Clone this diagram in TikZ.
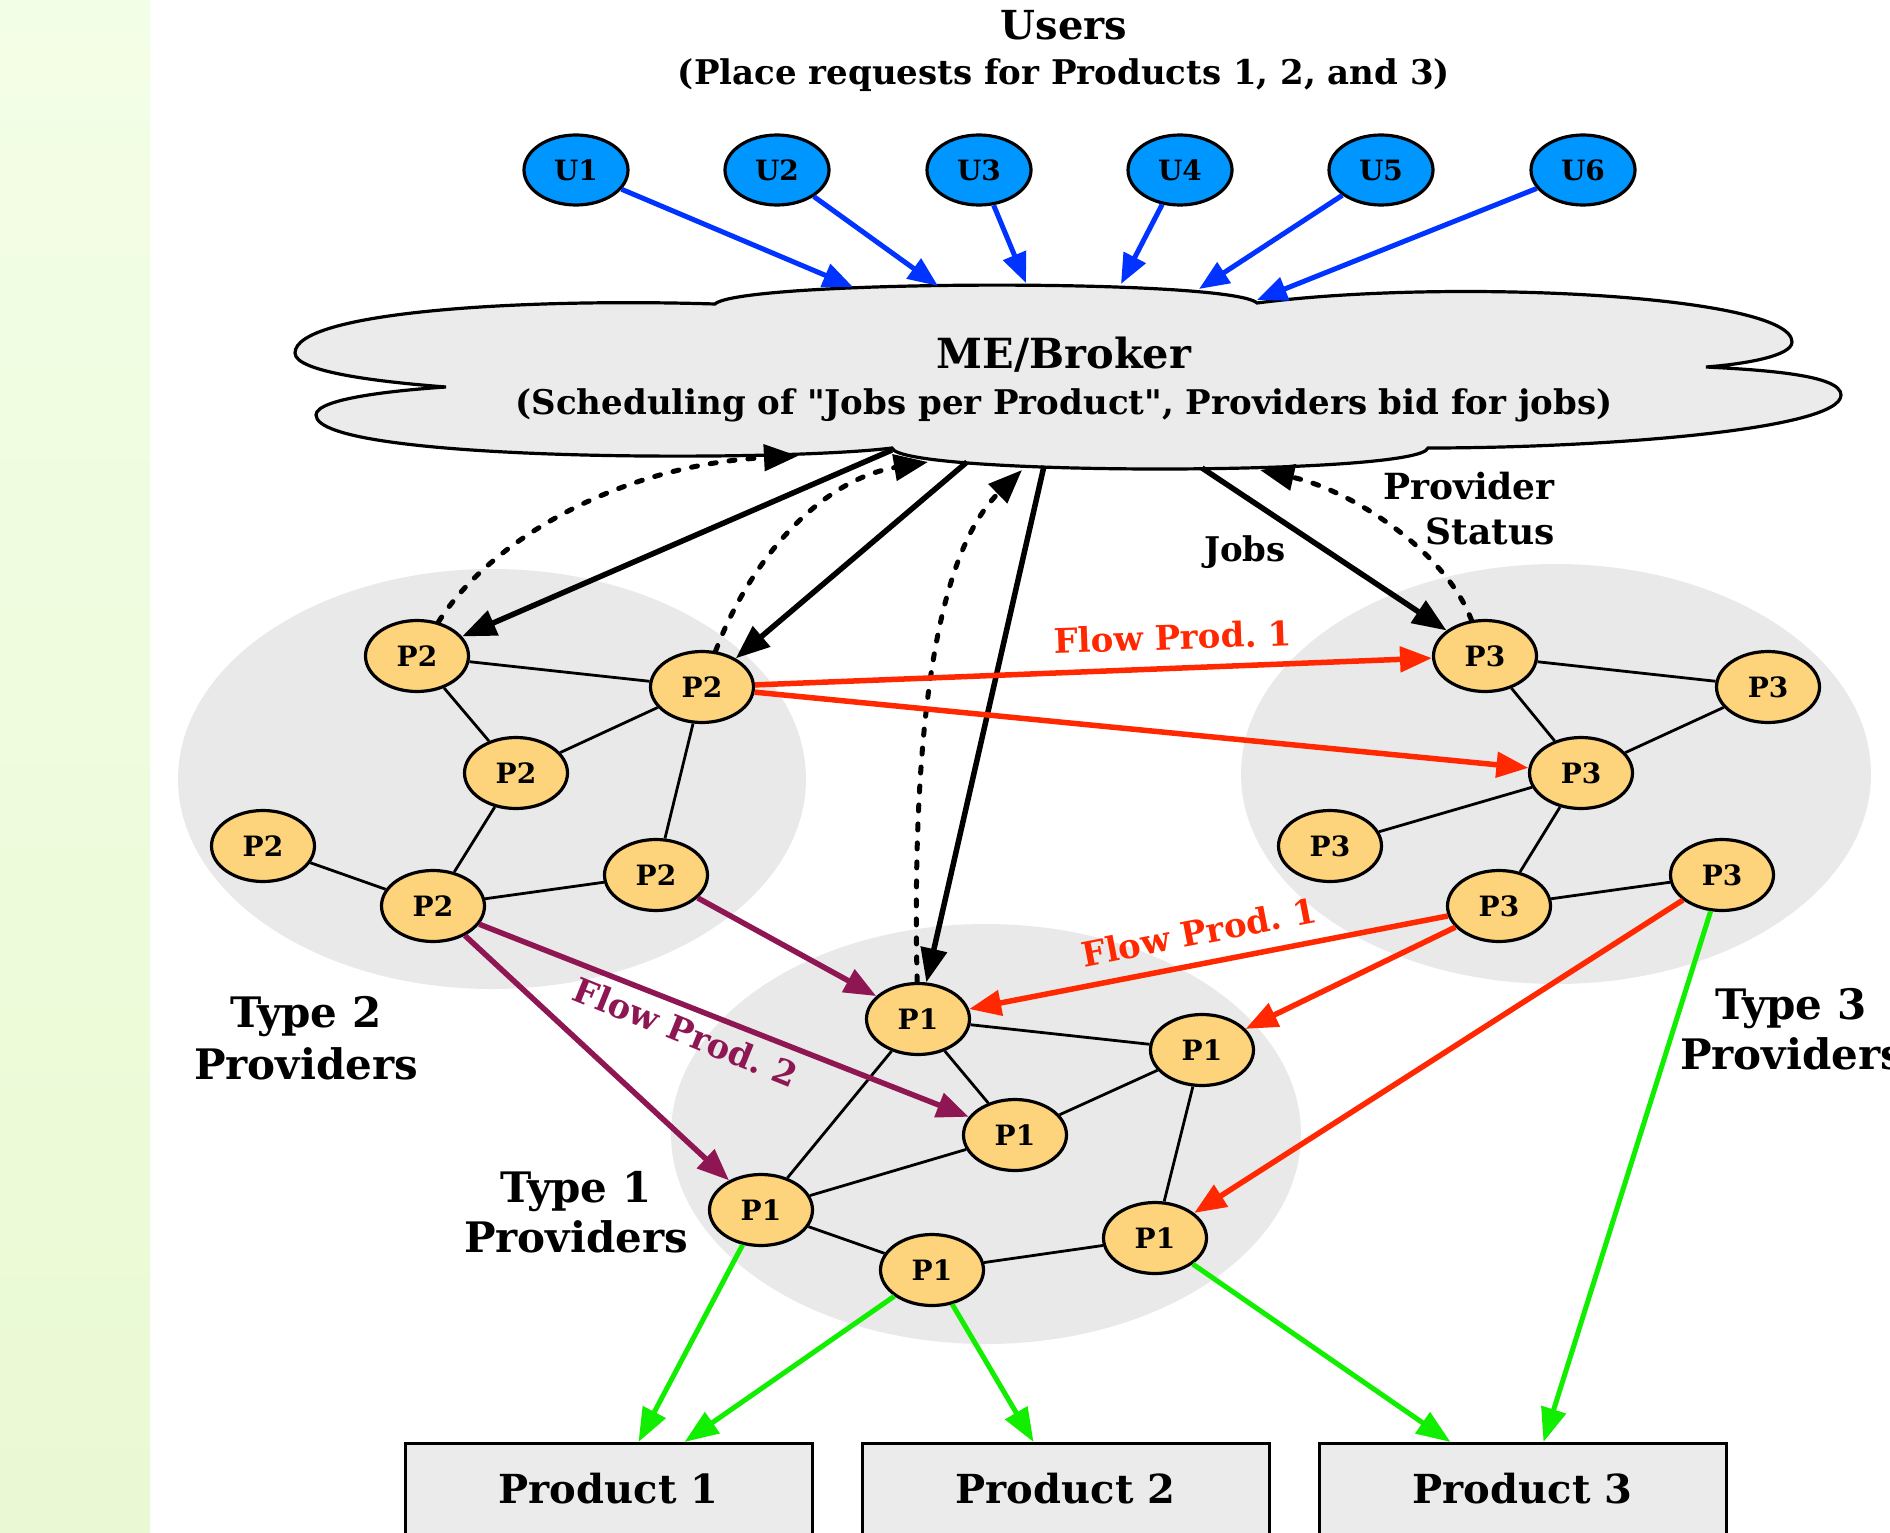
\documentclass[tikz,border=0pt]{standalone}
\usepackage{fontspec}
\setmainfont{DejaVu Serif}[Ligatures=TeXOff]
\usetikzlibrary{arrows.meta,shapes.geometric}
\frenchspacing

\definecolor{stripA}{RGB}{243,254,230}
\definecolor{stripB}{RGB}{234,249,211}
\definecolor{userfill}{RGB}{0,150,255}
\definecolor{userline}{RGB}{0,51,255}
\definecolor{provfill}{RGB}{253,212,124}
\definecolor{regionfill}{RGB}{233,233,233}
\definecolor{cloudfill}{RGB}{235,235,235}
\definecolor{flowred}{RGB}{255,40,0}
\definecolor{flowpurple}{RGB}{142,22,82}
\definecolor{flowgreen}{RGB}{17,238,0}

\newcommand\myfs[1]{\fontsize{#1}{#1}\selectfont\bfseries}

\begin{document}
\begin{tikzpicture}[x=1pt,y=-1pt,
  user/.style={ellipse,draw,line width=3.2pt,fill=userfill,minimum width=104pt,
    minimum height=70pt,inner sep=0pt,font=\myfs{28}},
  prov/.style={ellipse,draw,line width=3.2pt,fill=provfill,minimum width=103pt,
    minimum height=71pt,inner sep=0pt,font=\myfs{28}},
  link/.style={line width=2.8pt},
  userarrow/.style={userline,line width=5pt,-{Triangle[length=30pt,width=24pt]}},
  jobarrow/.style={black,line width=5.5pt,-{Triangle[length=34pt,width=26pt]}},
  statusarrow/.style={black,line width=5pt,line cap=round,dash pattern=on 6pt off 13pt,
    -{Triangle[length=34pt,width=26pt]}},
  redarrow/.style={flowred,line width=5.5pt,-{Triangle[length=32pt,width=25pt]}},
  purplearrow/.style={flowpurple,line width=5.5pt,-{Triangle[length=32pt,width=25pt]}},
  greenarrow/.style={flowgreen,line width=5pt,-{Triangle[length=34pt,width=25pt]}},
  prodbox/.style={draw,line width=3pt,fill=cloudfill,minimum width=407pt,
    minimum height=104pt,text depth=14pt,anchor=north,inner sep=0pt,font=\myfs{40}},
  lbl/.style={inner sep=0pt,align=center},
]
\useasboundingbox (0,0) rectangle (1890,1533);

% side strip
\shade[top color=stripA,bottom color=stripB] (0,0) rectangle (150,1533);

% provider regions
\fill[regionfill] (492,779) ellipse [x radius=314pt, y radius=210pt];
\fill[regionfill] (1556,774) ellipse [x radius=315pt, y radius=210pt];
\fill[regionfill] (986,1134) ellipse [x radius=315pt, y radius=210pt];

% broker cloud
\draw[line width=3.2pt,fill=cloudfill] (715,304)
  .. controls (740,280) and (1230,278) .. (1257,303)
  .. controls (1450,278) and (1792,295) .. (1792,342)
  .. controls (1792,356) and (1745,364) .. (1706,367)
  .. controls (1765,370) and (1841,375) .. (1841,395)
  .. controls (1841,430) and (1600,448) .. (1428,448)
  .. controls (1420,476) and (900,476) .. (892,448)
  .. controls (780,462) and (316,462) .. (316,415)
  .. controls (316,398) and (400,390) .. (446,387)
  .. controls (380,382) and (295,372) .. (295,353)
  .. controls (295,312) and (520,298) .. cycle;
\node[lbl,anchor=base,font=\myfs{41.5}] (broker) at (1064,368) {ME/Broker};
\node[lbl,anchor=base,font=\myfs{34}] (brokersub) at (1064,414)
  {(Scheduling of "Jobs per Product", Providers bid for jobs)};

% cloud attachment points
\coordinate (cu1) at (853,287);
\coordinate (cu2) at (938,286);
\coordinate (cu3) at (1026,283);
\coordinate (cu4) at (1121,284);
\coordinate (cu5) at (1199,289);
\coordinate (cu6) at (1257,300);
\coordinate (cj1) at (892,450);
\coordinate (cj2) at (967,462);
\coordinate (cj3) at (1044,466);
\coordinate (cj4) at (1202,468);
\coordinate (cs1) at (798,456);
\coordinate (cs2) at (928,462);
\coordinate (cs3) at (1022,470);
\coordinate (cs4) at (1260,470);

% headings
\node[lbl,anchor=base,font=\myfs{40}] (users) at (1064,40) {Users};
\node[lbl,anchor=base,font=\myfs{34}] (userssub) at (1064,85)
  {(Place requests for Products 1, 2, and 3)};

% users
\node[user] (u1) at (576,170) {U1};
\node[user] (u2) at (777,170) {U2};
\node[user] (u3) at (979,170) {U3};
\node[user] (u4) at (1180,170) {U4};
\node[user] (u5) at (1381,170) {U5};
\node[user] (u6) at (1583,170) {U6};

% type 2 providers
\node[prov] (p2a) at (417,656) {P2};
\node[prov] (p2b) at (702,687) {P2};
\node[prov] (p2c) at (516,773) {P2};
\node[prov] (p2d) at (263,846) {P2};
\node[prov] (p2e) at (433,906) {P2};
\node[prov] (p2f) at (656,875) {P2};

% type 3 providers
\node[prov] (p3a) at (1485,656) {P3};
\node[prov] (p3b) at (1768,687) {P3};
\node[prov] (p3c) at (1581,773) {P3};
\node[prov] (p3d) at (1330,846) {P3};
\node[prov] (p3e) at (1499,906) {P3};
\node[prov] (p3f) at (1722,875) {P3};

% type 1 providers
\node[prov] (p1a) at (918,1019) {P1};
\node[prov] (p1b) at (1202,1050) {P1};
\node[prov] (p1c) at (1015,1135) {P1};
\node[prov] (p1d) at (761,1210) {P1};
\node[prov] (p1e) at (932,1270) {P1};
\node[prov] (p1f) at (1155,1238) {P1};

% products
\node[prodbox] (prod1) at (608.5,1442) {Product 1};
\node[prodbox] (prod2) at (1065.5,1442) {Product 2};
\node[prodbox] (prod3) at (1522.5,1442) {Product 3};

% region labels
\node[lbl,font=\myfs{42},anchor=base] (t2a) at (306,1027) {Type 2};
\node[lbl,font=\myfs{42},anchor=base] (t2b) at (306,1079) {Providers};
\node[lbl,font=\myfs{42},anchor=base] (t1a) at (576,1202) {Type 1};
\node[lbl,font=\myfs{42},anchor=base] (t1b) at (576,1252) {Providers};
\node[lbl,font=\myfs{42},anchor=base] (t3a) at (1791,1019) {Type 3};
\node[lbl,font=\myfs{42},anchor=base] (t3b) at (1792,1069) {Providers};

% links inside the provider groups
\draw[link] (p2a) -- (p2b) (p2a) -- (p2c) (p2c) -- (p2b) (p2c) -- (p2e)
            (p2b) -- (p2f) (p2d) -- (p2e) (p2e) -- (p2f);
\draw[link] (p3a) -- (p3b) (p3a) -- (p3c) (p3c) -- (p3b) (p3c) -- (p3d)
            (p3c) -- (p3e) (p3e) -- (p3f);
\draw[link] (p1a) -- (p1b) (p1a) -- (p1c) (p1c) -- (p1b) (p1a) -- (p1d)
            (p1d) -- (p1c) (p1d) -- (p1e) (p1e) -- (p1f) (p1b) -- (p1f);

% requests from users
\draw[userarrow] (u1) -- (cu1);
\draw[userarrow] (u2) -- (cu2);
\draw[userarrow] (u3) -- (cu3);
\draw[userarrow] (u4) -- (cu4);
\draw[userarrow] (u5) -- (cu5);
\draw[userarrow] (u6) -- (cu6);

% jobs handed out by the broker
\draw[jobarrow] (cj1) -- (p2a);
\draw[jobarrow] (cj2) -- (p2b);
\draw[jobarrow] (cj3) -- (p1a);
\draw[jobarrow] (cj4) -- (p3a);

% provider status reports
\draw[statusarrow] (p2a) .. controls (490,540) and (620,465) .. (cs1);
\draw[statusarrow] (p2b) .. controls (750,560) and (820,480) .. (cs2);
\draw[statusarrow] (p1a) .. controls (912,760) and (930,560) .. (cs3);
\draw[statusarrow] (p3a) .. controls (1445,550) and (1350,490) .. (cs4);

\node[lbl,font=\myfs{34},anchor=base] (jobs) at (1245,561) {Jobs};
\node[lbl,font=\myfs{36},anchor=base east] (provst1) at (1555,499) {Provider};
\node[lbl,font=\myfs{36},anchor=base east] (provst2) at (1555,544) {Status};

% product 1 flow
\draw[redarrow] (p2b) -- (p3a);
\draw[redarrow] (p2b) -- (p3c);
\draw[redarrow] (p3e) -- (p1a);
\draw[redarrow] (p3e) -- (p1b);
\draw[redarrow] (p3f) -- (p1f);
\node[lbl,font=\myfs{34},text=flowred,rotate=2] (flow1a) at (1173,637) {Flow Prod. 1};
\node[lbl,font=\myfs{34},text=flowred,rotate=11] (flow1b) at (1199,932) {Flow Prod. 1};

% product 2 flow
\draw[purplearrow] (p2f) -- (p1a);
\draw[purplearrow] (p2e) -- (p1c);
\draw[purplearrow] (p2e) -- (p1d);
\node[lbl,font=\myfs{34},text=flowpurple,rotate=-22] (flow2) at (686,1032) {Flow Prod. 2};

% deliveries to products
\draw[greenarrow] (p1d) -- ([xshift=30pt]prod1.north);
\draw[greenarrow] (p1e) -- ([xshift=76pt]prod1.north);
\draw[greenarrow] (p1e) -- ([xshift=-32pt]prod2.north);
\draw[greenarrow] (p1f) -- ([xshift=-72pt]prod3.north);
\draw[greenarrow] (p3f) -- ([xshift=21pt]prod3.north);
\end{tikzpicture}
\end{document}
